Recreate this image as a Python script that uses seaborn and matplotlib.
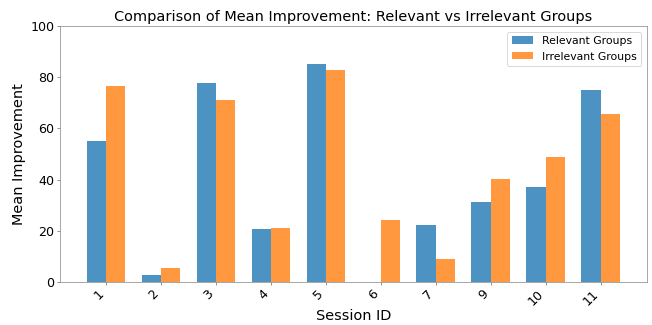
import pandas as pd
import seaborn as sns
import matplotlib
matplotlib.use("Agg")
import matplotlib.pyplot as plt

# values
sessions = ["1", "2", "3", "4", "5", "6", "7", "9", "10", "11"]
relevant = [55.2, 2.6, 77.8, 20.8, 85.3, 0.0, 22.3, 31.1, 37.2, 75.1]
irrelevant = [76.8, 5.4, 71.0, 21.0, 82.8, 24.0, 8.8, 40.2, 48.8, 65.8]

df = pd.DataFrame({
    "Session ID": sessions * 2,
    "Mean Improvement": relevant + irrelevant,
    "Group": ["Relevant Groups"] * len(sessions) + ["Irrelevant Groups"] * len(sessions),
})

sns.set_style("white")
plt.rcParams['font.family'] = ['DejaVu Sans']
plt.rcParams['text.color'] = 'black'
plt.rcParams['axes.labelcolor'] = 'black'
plt.rcParams['xtick.color'] = 'black'
plt.rcParams['ytick.color'] = 'black'

fig, ax = plt.subplots(figsize=(10, 4.985), dpi=65.2)
sns.barplot(data=df, x="Session ID", y="Mean Improvement", hue="Group",
            order=sessions, hue_order=["Relevant Groups", "Irrelevant Groups"],
            palette=["#1f77b4", "#ff7f0e"], alpha=0.8, width=0.7,
            saturation=1, linewidth=0, ax=ax)

ax.set_xlim(-0.835, 9.835)
ax.set_ylim(0, 100)
ax.set_title("Comparison of Mean Improvement: Relevant vs Irrelevant Groups", fontsize=16)
ax.set_xlabel("Session ID", fontsize=16, labelpad=1)
ax.set_ylabel("Mean Improvement", fontsize=16)
ax.tick_params(axis="both", labelsize=14, length=3.5, width=1, pad=3,
               color="#888888", left=True, bottom=True)
ax.tick_params(axis="x", rotation=45)
for lbl in ax.get_xticklabels():
    lbl.set_ha("right")
for s in ax.spines.values():
    s.set_color("#888888")
ax.legend(loc="upper right", fontsize=12)

fig.subplots_adjust(left=60 / 652, right=646.5 / 652, top=1 - 26.3 / 325, bottom=1 - 281.7 / 325)
plt.savefig("out.png", dpi=65.2)
